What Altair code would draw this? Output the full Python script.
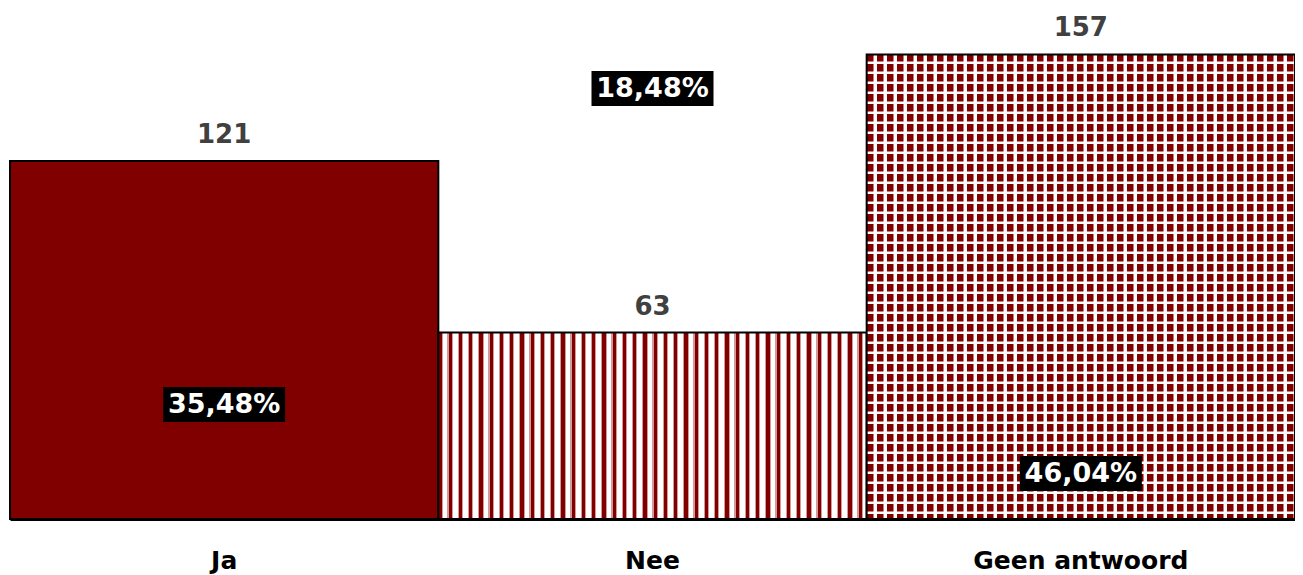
import altair as alt
import pandas as pd

categories = ["Ja", "Nee", "Geen antwoord"]
counts = [121, 63, 157]
percent_labels = ["35,48%", "18,48%", "46,04%"]
pct_label_at = [38.7, 145.5, 15.4]  # value on the y scale where each percentage box sits

df = pd.DataFrame({"cat": categories, "n": counts, "pct": percent_labels, "at": pct_label_at})
df["lo"] = df["at"] - 5.9
df["hi"] = df["at"] + 5.9

W, H = 1285, 511
YMAX = max(counts) * 1.1
DARK = "#800000"
FONT = "DejaVu Sans"


def stripe_gradient(length_px, period_px, segs, horizontal_bands=False):
    """segs: list of (fraction_end, color) inside one period."""
    n = length_px / period_px
    stops = []
    i = 0
    while i < n:
        start = i / n
        prev = start
        for frac, col in segs:
            end = min((i + frac) / n, 1.0)
            stops.append(alt.GradientStop(color=col, offset=min(prev, 1.0)))
            stops.append(alt.GradientStop(color=col, offset=end))
            prev = end
        i += 1
    if horizontal_bands:
        return alt.LinearGradient(gradient="linear", stops=stops, x1=0, x2=0, y1=0, y2=1)
    return alt.LinearGradient(gradient="linear", stops=stops, x1=0, x2=1, y1=0, y2=0)


bar_w = W / 3
px_per_unit = H / YMAX

nee_fill = stripe_gradient(bar_w, 10.25, [(0.33, DARK), (0.43, "#d49a9a"), (0.88, "#ffffff"), (1.0, "#d49a9a")])
geen_base_fill = stripe_gradient(bar_w, 10.0, [(0.66, DARK), (0.76, "#c87878"), (1.0, "#ffffff")])
geen_over_fill = stripe_gradient(157 * px_per_unit, 10.0,
                                 [(0.66, "rgba(255,255,255,0)"), (0.76, "rgba(255,255,255,0.5)"),
                                  (1.0, "#ffffff")],
                                 horizontal_bands=True)

xenc = alt.X("cat:N", sort=categories,
             scale=alt.Scale(paddingInner=0, paddingOuter=0),
             axis=alt.Axis(title=None, labelAngle=0, ticks=False, tickSize=0,
                           domainColor="black", domainWidth=3, labelPadding=49,
                           labelFont=FONT, labelFontSize=25, labelFontWeight="bold",
                           labelColor="black", labelBaseline="alphabetic", labelLimit=0))
yenc = alt.Y("n:Q", scale=alt.Scale(domain=[0, YMAX], nice=False, zero=True), axis=None)

base = alt.Chart(df).encode(x=xenc)

ja = base.transform_filter(alt.datum.cat == "Ja").mark_bar(
    fill=DARK, stroke="black", strokeWidth=2).encode(y=yenc)
nee = base.transform_filter(alt.datum.cat == "Nee").mark_bar(
    fill=nee_fill, stroke="black", strokeWidth=2).encode(y=yenc)
geen1 = base.transform_filter(alt.datum.cat == "Geen antwoord").mark_bar(
    fill=geen_base_fill, strokeWidth=0).encode(y=yenc)
geen2 = base.transform_filter(alt.datum.cat == "Geen antwoord").mark_bar(
    fill=geen_over_fill, stroke="black", strokeWidth=2).encode(y=yenc)

count_text = base.mark_text(dy=-18, baseline="alphabetic", font=FONT, fontSize=26,
                            fontWeight="bold", color="#404040").encode(y=yenc, text="n:Q")

pct_box = base.mark_bar(width=122, color="black").encode(
    y=alt.Y("lo:Q", scale=alt.Scale(domain=[0, YMAX], nice=False), axis=None), y2="hi:Q")
pct_text = base.mark_text(baseline="middle", dy=1, font=FONT, fontSize=27, fontWeight="bold",
                          color="white").encode(
    y=alt.Y("at:Q", scale=alt.Scale(domain=[0, YMAX], nice=False), axis=None), text="pct:N")

chart = alt.layer(ja, nee, geen1, geen2, count_text, pct_box, pct_text).properties(
    width=W, height=H,
    autosize=alt.AutoSizeParams(type="none"),
    padding={"left": 2, "top": 0, "right": 0, "bottom": 56},
).configure_view(stroke=None).configure_axis(grid=False)

chart.save("out.html", embed_options={"renderer": "svg", "actions": False})
